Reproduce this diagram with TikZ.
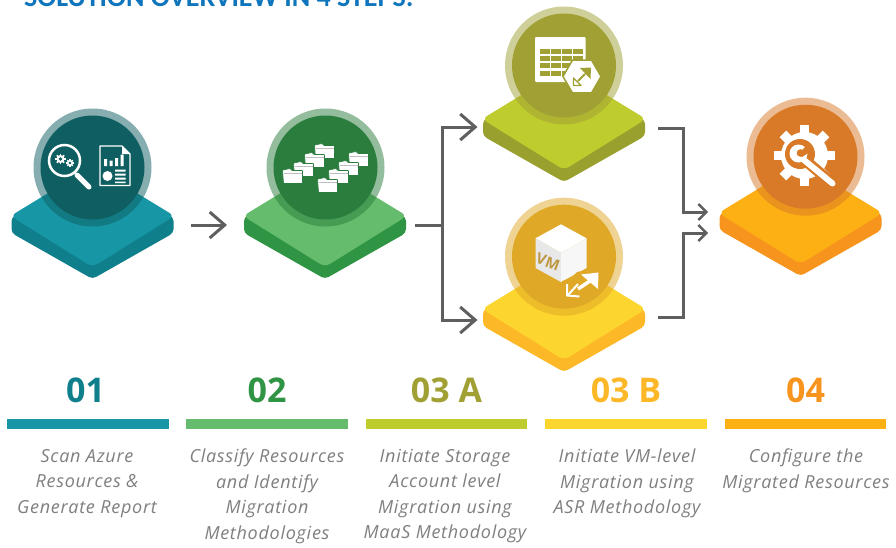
\documentclass[tikz,border=0pt]{standalone}
\usepackage{fontspec}
\setmainfont{Open Sans}
\newfontfamily\titlefont{Carlito}
\newfontfamily\descfont[LetterSpace=4]{Open Sans}
\usetikzlibrary{arrows.meta,shapes.geometric,calc}
\definecolor{arrowgray}{HTML}{5F5F5F}
\definecolor{desc}{HTML}{7F7F7F}
\definecolor{tealT}{HTML}{1797A6}\definecolor{tealS}{HTML}{0F7F8C}\definecolor{tealC}{HTML}{0F5F62}
\definecolor{greenT}{HTML}{64BC6C}\definecolor{greenS}{HTML}{2F9444}\definecolor{greenC}{HTML}{2B7D3E}
\definecolor{oliveT}{HTML}{BFCC2E}\definecolor{oliveS}{HTML}{99A02E}\definecolor{oliveC}{HTML}{A0A035}
\definecolor{yellowT}{HTML}{FDD52F}\definecolor{yellowS}{HTML}{FDB827}\definecolor{yellowC}{HTML}{DFA826}
\definecolor{orangeT}{HTML}{FDB014}\definecolor{orangeS}{HTML}{F7941D}\definecolor{orangeC}{HTML}{D97A28}
\definecolor{titleblue}{HTML}{0F75BD}
\tikzset{
  bigflow/.style={draw=arrowgray,line width=3pt,-{Straight Barb[length=15pt,width=26pt,line width=3pt]}},
  smallflow/.style={draw=arrowgray,line width=3pt,-{Straight Barb[length=8pt,width=16pt,line width=2.4pt]}},
  plainflow/.style={draw=arrowgray,line width=3pt},
  stepnum/.style={font=\fontsize{34}{34}\selectfont\bfseries,anchor=center,inner sep=0pt},
  stepdesc/.style={font=\descfont\fontsize{18}{25.5}\selectfont\itshape,text=desc,align=center,anchor=north,inner sep=0pt},
  stepbar/.style={minimum height=10pt,inner sep=0pt,anchor=north west,minimum width=161.5pt},
}
% #1 name, #2 x, #3 y, #4 top, #5 side, #6 circle colour, #7 circle x, #8 circle y
\newcommand\platformic[8]{
  \fill[#5,rounded corners=4pt] (#2-81,#3+1) -- (#2-81,#3+17) -- (#2,#3+63) -- (#2+81,#3+17) -- (#2+81,#3+1) -- (#2,#3-30) -- cycle;
  \fill[#4,rounded corners=6pt] (#2-82,#3) -- (#2,#3-50) -- (#2+82,#3) -- (#2,#3+51) -- cycle;
  \fill[#6,opacity=.5] (#7,#8) circle (59);
  \fill[#6] (#7,#8) circle (52);
  \coordinate (#1) at (#7,#8);
}
\newcommand\folderic[3]{
  \filldraw[fill=white,draw=#3,line width=.7pt,rounded corners=.6pt] (#1-9.5,#2+7.5) -- (#1-10.5,#2-6) -- (#1-3,#2-7.5) -- (#1-1,#2-5.5) -- (#1+9.5,#2-5.5) -- (#1+9.5,#2+7.5) -- cycle;
  \draw[black!25,line width=.6pt] (#1-9.5,#2-2.5) -- (#1+9,#2-2.5);
}
\newcommand\gearic[4]{
  \foreach \a in {0,45,...,315}{\fill[#4,rotate around={\a:(#1,#2)}] (#1-#3*.2,#2-#3*1.3) rectangle (#1+#3*.2,#2);}
  \fill[#4] (#1,#2) circle (#3);
}
\begin{document}
\begin{tikzpicture}[x=1pt,y=-1pt]
\useasboundingbox (0,0) rectangle (896,547);
\fill[white] (0,0) rectangle (896,547);

\node[anchor=base west,inner sep=0pt,text=titleblue,font=\titlefont\fontsize{28}{28}\selectfont\bfseries] (title) at (24,6) {SOLUTION OVERVIEW IN 4 STEPS:};

\coordinate (a1s) at (191,225); \coordinate (a1e) at (227,225);
\coordinate (b0) at (415,225); \coordinate (bj) at (442.5,225);
\coordinate (bt) at (477.5,127); \coordinate (bb) at (477.5,320);
\coordinate (c1) at (658,128); \coordinate (c1e) at (708,212);
\coordinate (c2) at (658,317); \coordinate (c2e) at (708,233);
\draw[bigflow] (a1s) -- (a1e);
\draw[plainflow] (b0) -- (bj);
\draw[bigflow] (bj) |- (bt);
\draw[bigflow] (bj) |- (bb);
\draw[smallflow] (c1) -| ($(c1e)+(-25,0)$) -- (c1e);
\draw[smallflow] (c2) -| ($(c2e)+(-25,0)$) -- (c2e);

\platformic{p1}{92.5}{216}{tealT}{tealS}{tealC}{92.5}{167.5}
\platformic{p2}{325}{216}{greenT}{greenS}{greenC}{325.5}{167.5}
\platformic{p3}{564}{119}{oliveT}{oliveS}{oliveC}{564}{65.5}
\platformic{p4}{564}{309}{yellowT}{yellowS}{yellowC}{564}{256.7}
\platformic{p5}{800.5}{213}{orangeT}{orangeS}{orangeC}{805.5}{156.7}

% icon 1
\draw[white,line width=2.5pt] (64.5,160.5) circle (15.5);
\draw[white,line width=5pt,line cap=round] (77,175) -- (89,187);
\gearic{60.5}{159}{4}{white}
\fill[tealC] (60.5,159) circle (1.8);
\gearic{70}{163}{3}{white}
\fill[tealC] (70,163) circle (1.3);
\draw[white,line width=1.4pt,line join=round] (100,146) -- (122,146) -- (130,154) -- (130,185.5) -- (100,185.5) -- cycle;
\fill[white] (122,146) -- (122,154) -- (130,154) -- cycle;
\fill[white] (104,159) rectangle (107,166) (109.5,160.5) rectangle (112.5,166) (115,158) rectangle (118,166) (120.5,154.5) rectangle (123.5,166);
\fill[white] (107.5,176) circle (5);
\fill[white] (115,169.5) rectangle (125.5,171.5) (115,173.5) rectangle (125.5,175.5) (115,177.5) rectangle (125.5,179.5) (115,181.5) rectangle (125.5,183);

% icon 2
\folderic{325}{151}{greenC}\folderic{315}{160}{greenC}\folderic{304}{169}{greenC}\folderic{293}{176}{greenC}
\folderic{359}{159}{greenC}\folderic{349}{168}{greenC}\folderic{339}{176}{greenC}\folderic{328}{185}{greenC}

% icon 3
\fill[white,rounded corners=1pt] (535,37) rectangle (585.5,82);
\foreach \r in {0,1,2,3}{\foreach \c in {0,1,2,3}{
  \fill[oliveC] (540+\c*11,49+\r*7.2) rectangle ++(9.5,5);}}
\node[regular polygon,regular polygon sides=6,fill=white,draw=oliveC,line width=1.5pt,minimum size=38pt,inner sep=0pt] (hex) at (582,76.5) {};
\fill[oliveC] (591,67.5) -- (580,68) -- (590.5,79) -- cycle;
\draw[oliveC,line width=2pt] (585,74) -- (578,81);
\draw[oliveC,line width=1.4pt,line join=round] (573.5,78) -- (573.5,85.5) -- (581,85.5) -- cycle;

% icon 4
\fill[white] (561,224.3) -- (586.5,238.3) -- (561,253) -- (535.5,238.3) -- cycle;
\fill[black!9] (535.5,238.3) -- (561,253) -- (561,282) -- (535.5,268) -- cycle;
\fill[black!3] (586.5,238.3) -- (561,253) -- (561,282) -- (586.5,268) -- cycle;
\node[text=yellowC!80!black!85,font=\fontsize{15}{15}\selectfont\bfseries,rotate=-20,inner sep=0pt] (vm) at (548,262) {VM};
\fill[yellowC] (562,299) -- (562,281) -- (570,279) -- (577,272) -- (597,268) -- (603,272) -- (602,292) -- (585,296) -- (585,300) -- cycle;
\fill[white] (598.5,272.5) -- (581,274.5) -- (598,289) -- cycle;
\draw[white,line width=3.5pt] (590,281) -- (578,289);
\draw[white,line width=2pt,line join=round] (567,284) -- (567,295.5) -- (579.5,296.5);
\draw[white,line width=2pt] (568,295) -- (578,284);

% icon 5
\gearic{804.5}{155.5}{23.5}{white}
\fill[orangeC] (800,154) circle (15);
\draw[orangeC,line width=11pt,line cap=round] (806,161) -- (833,184);
\fill[white] (798.5,153.5) circle (9);
\fill[orangeC] (800.5,153) circle (3.8);
\fill[orangeC] (799,153) -- (809,143) -- (813,150) -- (802,157) -- cycle;
\draw[white,line width=6pt,line cap=round] (804,160) -- (832.5,183.5);

\node[stepnum,text=tealS] (n1) at (85.5,390) {01};
\node[stepnum,text=greenS] (n2) at (267,390) {02};
\node[stepnum,text=oliveC] (n3) at (446.5,390) {03 A};
\node[stepnum,text=yellowS] (n4) at (626,390) {03 B};
\node[stepnum,text=orangeS] (n5) at (805.5,390) {04};

\node[stepbar,fill=tealT] (b1) at (7,419) {};
\node[stepbar,fill=greenT] (b2) at (186,419) {};
\node[stepbar,fill=oliveT] (b3) at (365.5,419) {};
\node[stepbar,fill=yellowT] (b4) at (545,419) {};
\node[stepbar,fill=orangeT] (b5) at (724.5,419) {};

\node[stepdesc] (d1) at (87,449) {Scan Azure\\Resources \&\\Generate Report};
\node[stepdesc] (d2) at (267,449) {Classify Resources\\and Identify\\Migration\\Methodologies};
\node[stepdesc] (d3) at (445,449) {Initiate Storage\\Account level\\Migration using\\MaaS Methodology};
\node[stepdesc] (d4) at (627,449) {Initiate VM-level\\Migration using\\ASR Methodology};
\node[stepdesc] (d5) at (806,449) {Configure the\\Migrated Resources};
\end{tikzpicture}
\end{document}
